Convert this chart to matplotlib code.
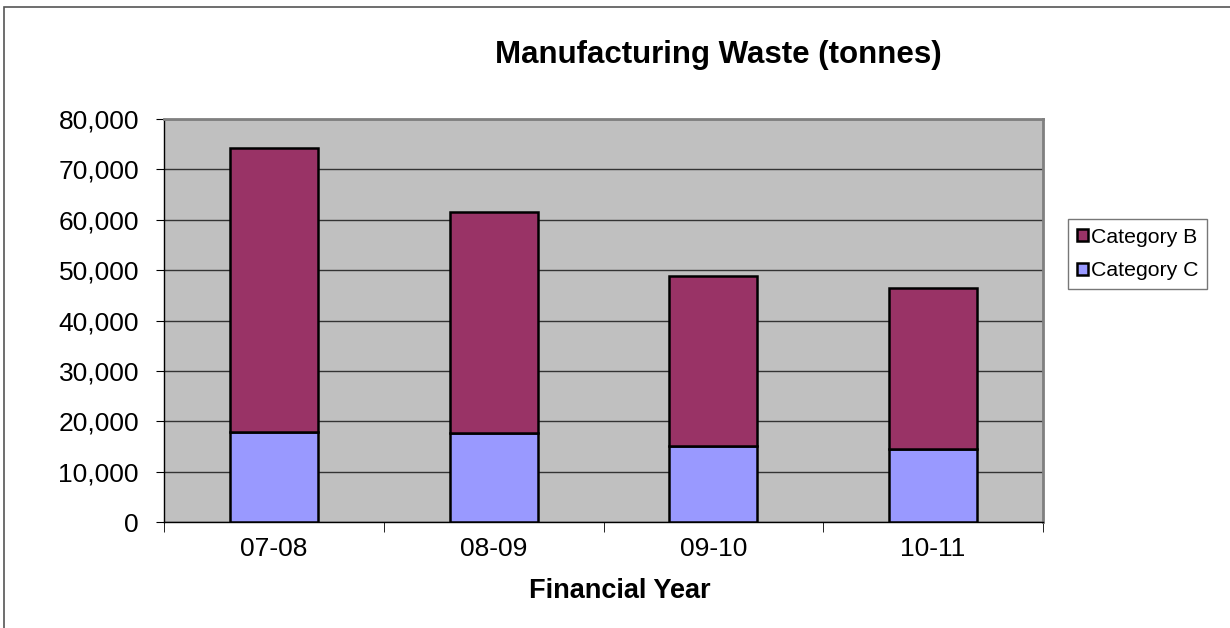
import matplotlib.pyplot as plt
import matplotlib.patches as mpatches
from matplotlib.ticker import FuncFormatter, FixedLocator
import numpy as np

plt.rcParams["font.family"] = ["Liberation Sans", "DejaVu Sans"]

years = ["07-08", "08-09", "09-10", "10-11"]
cat_c = [17900, 17600, 15000, 14400]
cat_b = [56250, 44000, 33900, 32000]

fig = plt.figure(figsize=(12.3, 6.28), dpi=100)
ax = fig.add_axes([164 / 1230, 106 / 628, 879 / 1230, 403 / 628])

# outer chart border
fig.patches.append(mpatches.Rectangle((4 / 1230, -0.1), 1.2, (628 - 7) / 628 + 0.1,
                                      transform=fig.transFigure, fill=False,
                                      edgecolor="#555555", linewidth=1.2))

x = np.arange(len(years))
ax.set_facecolor("#C0C0C0")
ax.bar(x, cat_c, width=0.4, color="#9999FF", edgecolor="black", linewidth=1.8,
       label="Category C", zorder=3)
ax.bar(x, cat_b, width=0.4, bottom=cat_c, color="#993366", edgecolor="black",
       linewidth=1.8, label="Category B", zorder=3)

ax.set_xlim(-0.5, 3.5)
ax.set_ylim(0, 80000)
ax.set_yticks(np.arange(0, 80001, 10000))
ax.yaxis.set_major_formatter(FuncFormatter(lambda v, p: f"{int(v):,}"))
ax.grid(axis="y", color="#333333", linewidth=1.0, zorder=1)

ax.set_xticks(x)
ax.set_xticklabels(years, fontsize=19)
ax.tick_params(axis="x", length=0, pad=11)
ax.xaxis.set_minor_locator(FixedLocator(np.arange(-0.5, 3.6, 1)))
ax.tick_params(axis="x", which="minor", length=7, color="black")
ax.tick_params(axis="y", labelsize=19, length=6, color="black", pad=12)

for s in ["top", "right"]:
    ax.spines[s].set_color("#808080")
    ax.spines[s].set_linewidth(2)
for s in ["left", "bottom"]:
    ax.spines[s].set_color("black")
    ax.spines[s].set_linewidth(1)

ax.set_xlabel("Financial Year", fontsize=19.5, fontweight="bold")
ax.xaxis.set_label_coords(0.519, -0.14)
fig.text(718 / 1230, 1 - 55 / 628, "Manufacturing Waste (tonnes)", fontsize=22.5,
         fontweight="bold", ha="center", va="center")

handles, labels = ax.get_legend_handles_labels()
leg = fig.legend(handles[::-1], labels[::-1], loc="center left",
                 bbox_to_anchor=(1068 / 1230, 1 - 254 / 628), fontsize=15.3,
                 frameon=True, fancybox=False, edgecolor="#555555",
                 handlelength=0.55, handleheight=0.55, handletextpad=0.15,
                 borderpad=0.4, labelspacing=0.7, borderaxespad=0)
leg.get_frame().set_linewidth(1)

fig.savefig("out.png", dpi=100)
